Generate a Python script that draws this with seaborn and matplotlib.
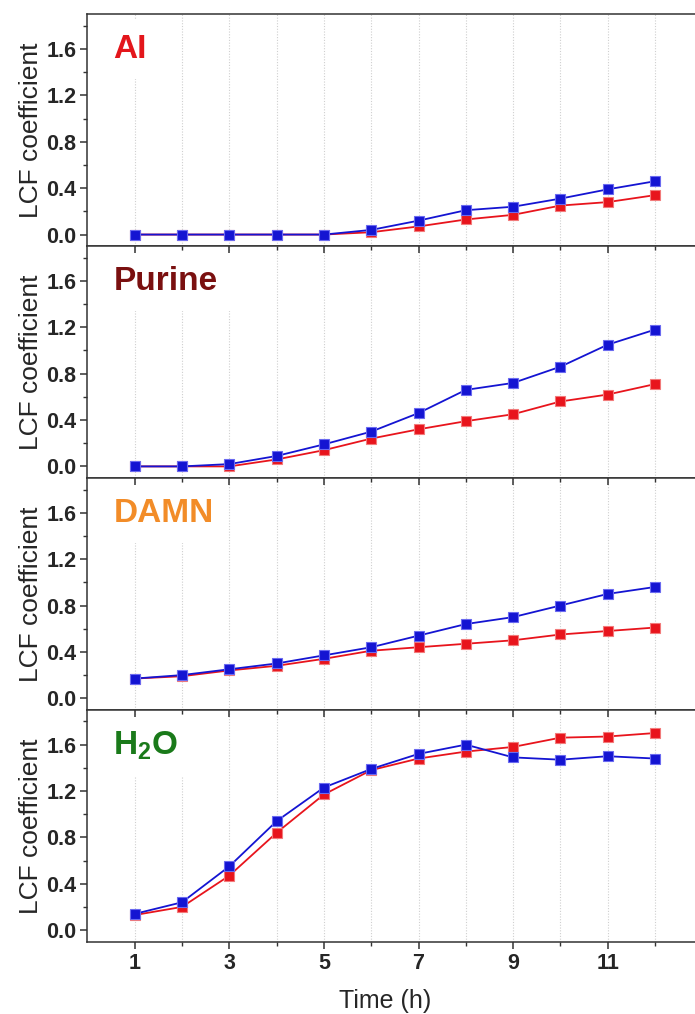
import matplotlib
matplotlib.use('Agg')
import matplotlib.pyplot as plt
import seaborn as sns
from matplotlib import font_manager
from matplotlib.ticker import MultipleLocator, FixedLocator

time = [1, 2, 3, 4, 5, 6, 7, 8, 9, 10, 11, 12]

ai_red = [0, 0, 0, 0, 0, 0.02, 0.07, 0.13, 0.17, 0.25, 0.28, 0.34]
ai_blue = [0, 0, 0, 0, 0, 0.04, 0.12, 0.21, 0.24, 0.31, 0.39, 0.46]

purine_red = [0, 0, 0.0, 0.06, 0.14, 0.24, 0.32, 0.39, 0.45, 0.56, 0.62, 0.71]
purine_blue = [0, 0, 0.02, 0.09, 0.19, 0.30, 0.46, 0.66, 0.72, 0.86, 1.05, 1.18]

damn_red = [0.17, 0.19, 0.24, 0.28, 0.34, 0.41, 0.44, 0.47, 0.50, 0.55, 0.58, 0.61]
damn_blue = [0.17, 0.20, 0.25, 0.30, 0.37, 0.44, 0.54, 0.64, 0.70, 0.80, 0.90, 0.96]

h2o_red = [0.13, 0.20, 0.47, 0.84, 1.17, 1.38, 1.48, 1.54, 1.58, 1.66, 1.67, 1.70]
h2o_blue = [0.14, 0.24, 0.55, 0.94, 1.23, 1.39, 1.52, 1.60, 1.49, 1.47, 1.50, 1.48]

panel_names = ['AI', 'Purine', 'DAMN', r'H$_\mathbf{2}$O']
panel_colors = ['#e3161b', '#7a1010', '#f28c28', '#1a7a1a']
red_series = [ai_red, purine_red, damn_red, h2o_red]
blue_series = [ai_blue, purine_blue, damn_blue, h2o_blue]

sns.set_style('ticks')
names = {f.name for f in font_manager.fontManager.ttflist}
narrow = 'Liberation Sans Narrow' if 'Liberation Sans Narrow' in names else 'Liberation Sans'
plt.rcParams['font.family'] = ['Liberation Sans', 'DejaVu Sans']
plt.rcParams['mathtext.fontset'] = 'custom'
plt.rcParams['mathtext.bf'] = narrow + ':bold'
plt.rcParams['mathtext.rm'] = narrow

fig, axes = plt.subplots(4, 1, figsize=(6.95, 10.14), dpi=100, sharex=True)
fig.subplots_adjust(left=0.1258, right=1.0105, top=0.9859, bottom=0.0713, hspace=0)

for i, ax in enumerate(axes):
    for t in time:
        ax.axvline(t, color='#cfcfcf', lw=0.8, ls=(0, (1, 1.5)), zorder=0.5)
    sns.lineplot(x=time, y=red_series[i], ax=ax, color='#e8141c', lw=1.3,
                 marker='s', ms=6.5, mec='#f27a7a', mew=0.8, zorder=2)
    sns.lineplot(x=time, y=blue_series[i], ax=ax, color='#1414d2', lw=1.3,
                 marker='s', ms=6.5, mec='#6a6af0', mew=0.8, zorder=3)
    ax.text(0.55, 1.52, panel_names[i], color=panel_colors[i], fontsize=24,
            fontweight='bold', family=[narrow, 'DejaVu Sans'], zorder=1,
            bbox=dict(boxstyle='square,pad=0.42', fc='white', ec='none'))
    ax.set_axisbelow(False)
    ax.set_xlim(0, 13)
    ax.set_ylim(-0.1, 1.9)
    ax.yaxis.set_major_locator(MultipleLocator(0.4))
    ax.yaxis.set_minor_locator(MultipleLocator(0.2))
    ax.xaxis.set_major_locator(FixedLocator([1, 3, 5, 7, 9, 11]))
    ax.xaxis.set_minor_locator(FixedLocator([2, 4, 6, 8, 10, 12]))
    ax.set_ylabel('LCF coefficient', fontsize=19, labelpad=2)
    ax.tick_params(axis='both', which='major', direction='out', length=5, width=1.1,
                   color='#333333', labelsize=15.5, pad=3)
    ax.tick_params(axis='both', which='minor', direction='out', length=3, width=1.0,
                   color='#333333')
    ax.tick_params(axis='x', which='both', top=(i > 0))
    for lbl in ax.get_yticklabels() + ax.get_xticklabels():
        lbl.set_fontweight('bold')
        lbl.set_family([narrow, 'DejaVu Sans'])
    for sp in ax.spines.values():
        sp.set_color('#333333')
        sp.set_linewidth(1.1)
    sec = ax.secondary_yaxis('right')
    sec.yaxis.set_major_locator(MultipleLocator(0.4))
    sec.tick_params(direction='in', length=5, labelright=False, color='#555555')
    sec.spines['right'].set_color('#333333')
    if i > 0:
        # ticks of the panel above point down into this one
        for tk in ax.xaxis.get_major_ticks():
            tk.tick2line.set_marker(matplotlib.lines.TICKDOWN)
            tk.tick2line.set_markersize(5)
        for tk in ax.xaxis.get_minor_ticks():
            tk.tick2line.set_marker(matplotlib.lines.TICKDOWN)
            tk.tick2line.set_markersize(3)

axes[-1].set_xlabel('Time (h)', fontsize=18)
axes[-1].xaxis.set_label_coords(0.484, -0.205)

fig.savefig('out.png', dpi=100)
